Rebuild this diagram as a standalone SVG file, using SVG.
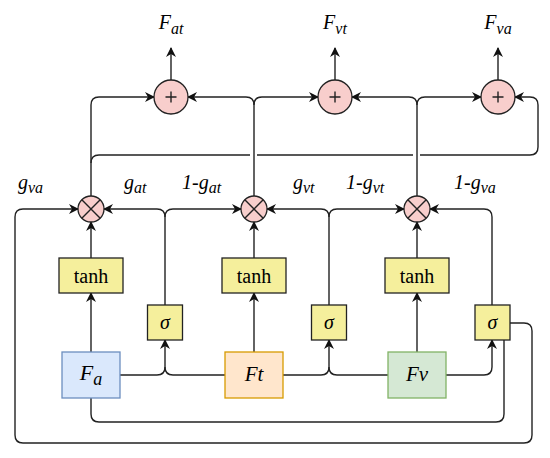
<svg xmlns="http://www.w3.org/2000/svg" width="550" height="458" viewBox="0 0 550 458">
<style>
.ln{fill:none;stroke:#222;stroke-width:1.4}
.op{fill:#f8cecc;stroke:#222;stroke-width:1.3}
.gate{fill:#f5ef9c;stroke:#222;stroke-width:1.3}
.t{font-family:"Liberation Serif","Times New Roman",serif;fill:#000}
.i{font-style:italic}
</style>
<defs>
<marker id="a" viewBox="0 0 10 10" refX="9" refY="5" markerWidth="10" markerHeight="10" markerUnits="userSpaceOnUse" orient="auto">
<path d="M0,0 L10,5 L0,10 L3,5 Z" fill="#111"/>
</marker>
</defs>
<rect width="550" height="458" fill="#fff"/>
<g id="connectors">
<path class="ln" d="M91 352 V293" marker-end="url(#a)"/>
<path class="ln" d="M254 352 V293" marker-end="url(#a)"/>
<path class="ln" d="M417 352 V293" marker-end="url(#a)"/>
<path class="ln" d="M91 258 V222" marker-end="url(#a)"/>
<path class="ln" d="M254 258 V222" marker-end="url(#a)"/>
<path class="ln" d="M417 258 V222" marker-end="url(#a)"/>
<path class="ln" d="M120 375 H157 Q165 375 165 367 V340" marker-end="url(#a)"/>
<path class="ln" d="M225 375 H173 Q165 375 165 367"/>
<path class="ln" d="M283 375 H321 Q329 375 329 367 V340" marker-end="url(#a)"/>
<path class="ln" d="M388 375 H337 Q329 375 329 367"/>
<path class="ln" d="M446 375 H484 Q492 375 492 367 V340" marker-end="url(#a)"/>
<path class="ln" d="M165 305 V217 Q165 209 157 209 H104" marker-end="url(#a)"/>
<path class="ln" d="M165 217 Q165 209 173 209 H241" marker-end="url(#a)"/>
<path class="ln" d="M329 305 V217 Q329 209 321 209 H267" marker-end="url(#a)"/>
<path class="ln" d="M329 217 Q329 209 337 209 H404" marker-end="url(#a)"/>
<path class="ln" d="M492 305 V217 Q492 209 484 209 H430" marker-end="url(#a)"/>
<path class="ln" d="M510 323 H524 Q532 323 532 331 V435 Q532 443 524 443 H23 Q15 443 15 435 V217 Q15 209 23 209 H78" marker-end="url(#a)"/>
<path class="ln" d="M91 398 V414 Q91 422 99 422 H496 Q504 422 504 414 V340"/>
<path class="ln" d="M91 196 V105 Q91 97 99 97 H154" marker-end="url(#a)"/>
<path class="ln" d="M91 163 Q91 155 99 155 H250 M257 155 H413 M420 155 H530 Q538 155 538 147 V105 Q538 97 530 97 H515" marker-end="url(#a)"/>
<path class="ln" d="M254 196 V105 Q254 97 246 97 H188" marker-end="url(#a)"/>
<path class="ln" d="M254 105 Q254 97 262 97 H318" marker-end="url(#a)"/>
<path class="ln" d="M417 196 V105 Q417 97 409 97 H352" marker-end="url(#a)"/>
<path class="ln" d="M417 105 Q417 97 425 97 H481" marker-end="url(#a)"/>
<path class="ln" d="M171 80 V48" marker-end="url(#a)"/>
<path class="ln" d="M335 80 V48" marker-end="url(#a)"/>
<path class="ln" d="M498 80 V48" marker-end="url(#a)"/>
</g>
<g id="plus1"><circle class="op" cx="171" cy="97" r="17"/><path class="ln" d="M165.5 97 H176.5 M171 91.5 V102.5"/></g>
<g id="plus2"><circle class="op" cx="335" cy="97" r="17"/><path class="ln" d="M329.5 97 H340.5 M335 91.5 V102.5"/></g>
<g id="plus3"><circle class="op" cx="498" cy="97" r="17"/><path class="ln" d="M492.5 97 H503.5 M498 91.5 V102.5"/></g>
<g id="mul1"><circle class="op" cx="91" cy="209" r="13"/><path class="ln" d="M81.8 199.8 L100.2 218.2 M100.2 199.8 L81.8 218.2"/></g>
<g id="mul2"><circle class="op" cx="254" cy="209" r="13"/><path class="ln" d="M244.8 199.8 L263.2 218.2 M263.2 199.8 L244.8 218.2"/></g>
<g id="mul3"><circle class="op" cx="417" cy="209" r="13"/><path class="ln" d="M407.8 199.8 L426.2 218.2 M426.2 199.8 L407.8 218.2"/></g>
<g id="tanh1"><rect class="gate" x="59" y="258" width="64" height="35"/><text class="t" x="91" y="283" font-size="20" text-anchor="middle">tanh</text></g>
<g id="tanh2"><rect class="gate" x="222" y="258" width="64" height="35"/><text class="t" x="254" y="283" font-size="20" text-anchor="middle">tanh</text></g>
<g id="tanh3"><rect class="gate" x="385" y="258" width="64" height="35"/><text class="t" x="417" y="283" font-size="20" text-anchor="middle">tanh</text></g>
<g id="sig1"><rect class="gate" x="147.5" y="305" width="35" height="35"/><text class="t i" x="165" y="329" font-size="20" text-anchor="middle">σ</text></g>
<g id="sig2"><rect class="gate" x="311.5" y="305" width="35" height="35"/><text class="t i" x="329" y="329" font-size="20" text-anchor="middle">σ</text></g>
<g id="sig3"><rect class="gate" x="475" y="305" width="35" height="35"/><text class="t i" x="492.5" y="329" font-size="20" text-anchor="middle">σ</text></g>
<g id="Fa"><rect x="62" y="352" width="58" height="46" fill="#dae8fc" stroke="#6c8ebf" stroke-width="1.3"/><text class="t i" x="91" y="380" font-size="22" text-anchor="middle">F<tspan font-size="18" dy="5">a</tspan></text></g>
<g id="Ft"><rect x="225" y="352" width="58" height="46" fill="#ffe6cc" stroke="#d79b00" stroke-width="1.3"/><text class="t i" x="254" y="381" font-size="21" text-anchor="middle">Ft</text></g>
<g id="Fv"><rect x="388" y="352" width="58" height="46" fill="#d5e8d4" stroke="#82b366" stroke-width="1.3"/><text class="t i" x="417" y="381" font-size="21" text-anchor="middle">Fv</text></g>
<g id="labels">
<text class="t i" x="171" y="29" font-size="20" text-anchor="middle">F<tspan font-size="16" dy="5">at</tspan></text>
<text class="t i" x="335" y="29" font-size="20" text-anchor="middle">F<tspan font-size="16" dy="5">vt</tspan></text>
<text class="t i" x="498" y="29" font-size="20" text-anchor="middle">F<tspan font-size="16" dy="5">va</tspan></text>
<text class="t i" x="18" y="189" font-size="20">g<tspan font-size="16" dy="4">va</tspan></text>
<text class="t i" x="124" y="189" font-size="20">g<tspan font-size="16" dy="4">at</tspan></text>
<text class="t i" x="182" y="189" font-size="20">1-g<tspan font-size="16" dy="4">at</tspan></text>
<text class="t i" x="293" y="189" font-size="20">g<tspan font-size="16" dy="4">vt</tspan></text>
<text class="t i" x="346" y="189" font-size="20">1-g<tspan font-size="16" dy="4">vt</tspan></text>
<text class="t i" x="454" y="189" font-size="20">1-g<tspan font-size="16" dy="4">va</tspan></text>
</g>
</svg>
